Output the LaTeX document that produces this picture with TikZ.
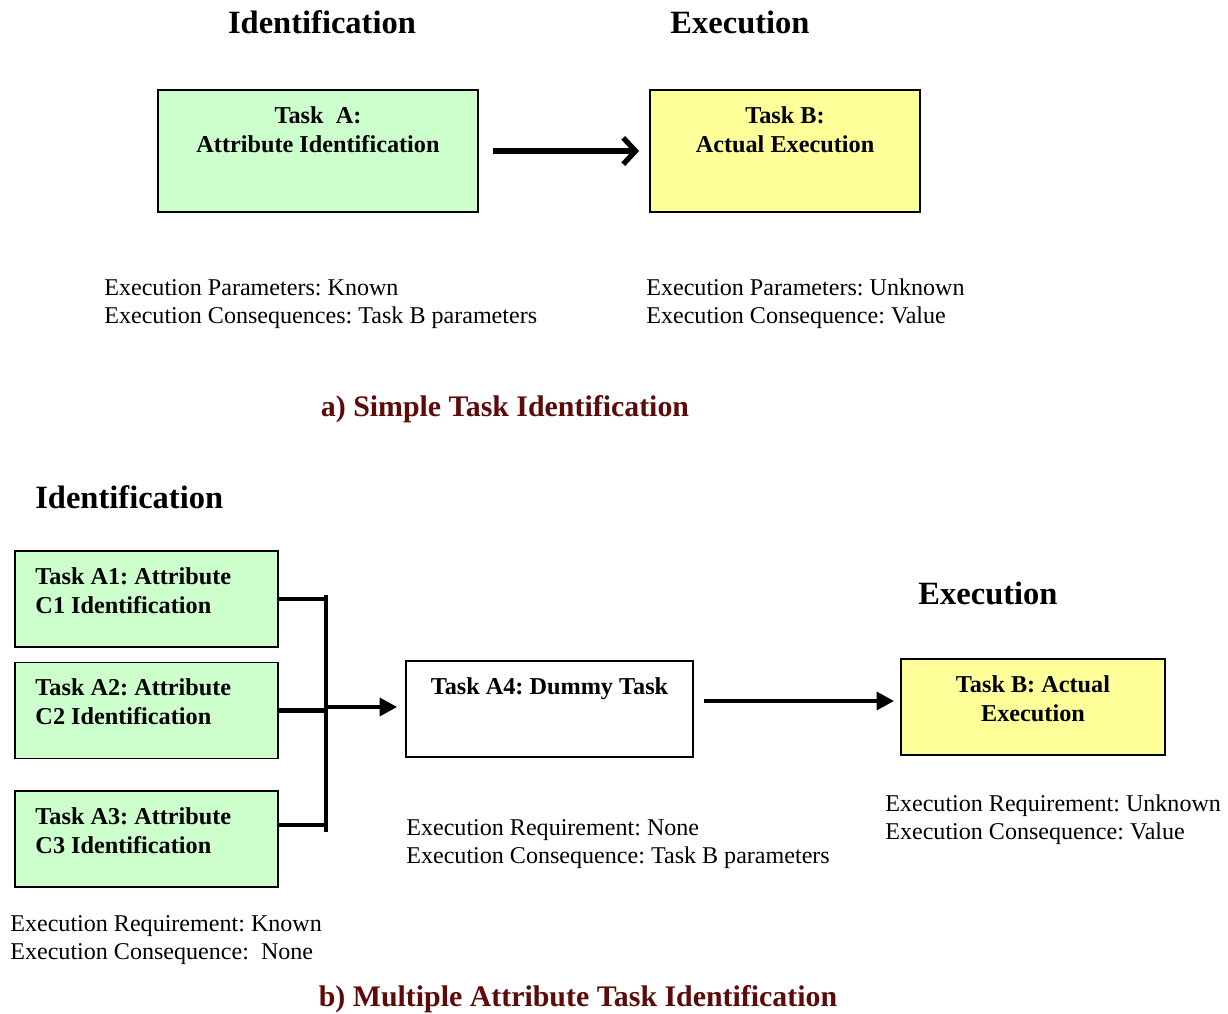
\documentclass[tikz,border=0pt]{standalone}
\usepackage{fontspec}
\setmainfont{Liberation Serif}
\usepackage[HTML]{xcolor}
\usetikzlibrary{positioning, arrows.meta}
\frenchspacing

\definecolor{boxgreen}{HTML}{CCFFCC}
\definecolor{boxyellow}{HTML}{FFFF99}
\definecolor{captionred}{HTML}{5C0A0A}

\begin{document}
\begin{tikzpicture}[x=0.02cm, y=-0.02cm,
  task/.style={draw, line width=1pt, minimum width=5.26cm, minimum height=1.92cm},
  greenbox/.style={task, fill=boxgreen},
  yellowbox/.style={task, fill=boxyellow},
  boxtext/.style={inner sep=0pt, font=\fontsize{13.8}{16.5}\selectfont\bfseries},
  heading/.style={inner sep=0pt, font=\fontsize{18.5}{22}\selectfont\bfseries},
  note/.style={inner sep=0pt, anchor=west, align=left, font=\fontsize{13.7}{15.9}\selectfont},
  caption/.style={inner sep=0pt, text=captionred, font=\fontsize{17}{20}\selectfont\bfseries},
  thick arrow/.style={line width=2.8pt, -{Triangle[length=10pt,width=10pt]}},
  bus/.style={line width=2.8pt}]
\useasboundingbox (0,0) rectangle (1228,1014);

% a) simple task identification
\node[heading] (identTop) at (322,22) {Identification};
\node[heading] (execTop)  at (740,22) {Execution};

\node[greenbox, minimum width=6.4cm, minimum height=2.44cm]  (taskA) at (318,151) {};
\node[yellowbox, minimum width=5.4cm, minimum height=2.44cm] (taskB) at (785,151) {};
\node[boxtext, align=center, below=0.34cm of taskA.north] (taskAtext) {Task\ \ A:\\Attribute Identification};
\node[boxtext, align=center, below=0.34cm of taskB.north] (taskBtext) {Task B:\\Actual Execution};

\draw[line width=3pt, -{Straight Barb[length=7pt,width=15pt]}, shorten <=8pt, shorten >=5.7pt] (taskA) -- (taskB);

\node[note] (notesA) at (104,304) {Execution Parameters: Known\\Execution Consequences: Task B parameters};
\node[note] (notesB) at (646,304) {Execution Parameters: Unknown\\Execution Consequence: Value};

\node[caption] (captionA) at (505,409) {a) Simple Task Identification};

% b) multiple attribute task identification
\node[heading, anchor=west] (identBot) at (35,497) {Identification};
\node[heading] (execBot) at (988,593) {Execution};

\node[greenbox] (taskAone)   at (146.5,599)   {};
\node[greenbox] (taskAtwo)   at (146.5,710.5) {};
\node[greenbox] (taskAthree) at (146.5,839)   {};
\node[task, minimum width=5.74cm] (taskAfour) at (549.5,709) {};
\node[yellowbox, minimum width=5.28cm] (taskBb) at (1033,707) {};

\node[boxtext, align=left, below right=0.34cm and 0.42cm of taskAone.north west]   (taskAonetext)   {Task A1: Attribute\\C1 Identification};
\node[boxtext, align=left, below right=0.34cm and 0.42cm of taskAtwo.north west]   (taskAtwotext)   {Task A2: Attribute\\C2 Identification};
\node[boxtext, align=left, below right=0.34cm and 0.42cm of taskAthree.north west] (taskAthreetext) {Task A3: Attribute\\C3 Identification};
\node[boxtext, align=center, below=0.34cm of taskAfour.north] (taskAfourtext) {Task A4: Dummy Task};
\node[boxtext, align=center, below=0.34cm of taskBb.north]    (taskBbtext)    {Task B: Actual\\Execution};

\coordinate (busTop) at (326,595);
\coordinate (busBot) at (326,832);
\coordinate (busOut) at (326,707);
\draw[bus] (busTop) -- (busBot);
\draw[bus] (taskAone.east) -- (taskAone.east -| busTop);
\draw[bus] (taskAtwo.east) -- (taskAtwo.east -| busTop);
\draw[bus] ([yshift=0.28cm]taskAthree.east) -- ([yshift=0.28cm]taskAthree.east -| busTop);
\draw[thick arrow, shorten >=4.5pt] (busOut) -- (busOut -| taskAfour.west);
\draw[thick arrow, shorten <=6pt, shorten >=3.4pt] ([yshift=0.16cm]taskAfour.east) -- ([yshift=0.16cm]taskAfour.east -| taskBb.west);

\node[note] (notesAthree) at (10,940)  {Execution Requirement: Known\\Execution Consequence:\ \ None};
\node[note] (notesAfour)  at (406,844) {Execution Requirement: None\\Execution Consequence: Task B parameters};
\node[note] (notesBb)     at (885,820) {Execution Requirement: Unknown\\Execution Consequence: Value};

\node[caption] (captionB) at (578,999) {b) Multiple Attribute Task Identification};
\end{tikzpicture}
\end{document}
